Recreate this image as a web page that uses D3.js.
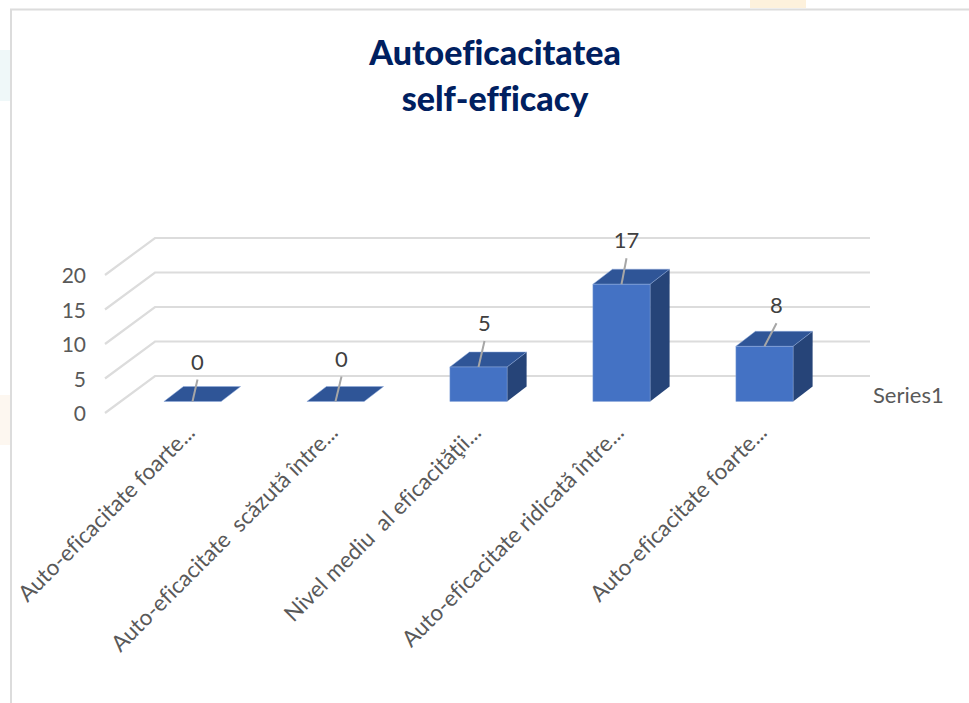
<!DOCTYPE html>
<html>
<head>
<meta charset="utf-8">
<script src="https://cdn.jsdelivr.net/npm/d3@7"></script>
<style>
  html, body { margin: 0; padding: 0; background: #fff; }
  svg { display: block; }
  text { font-family: Lato, "Open Sans", sans-serif; font-variant-ligatures: none; white-space: pre; }
</style>
</head>
<body>
<div id="chart"></div>
<script>
const titleLines = ['Autoeficacitatea', 'self-efficacy'];
const categories = [
    'Auto-eficacitate foarte...',
    'Auto-eficacitate  scăzută între...',
    'Nivel mediu  al eficacităţii...',
    'Auto-eficacitate ridicată între...',
    'Auto-eficacitate foarte...'
];
const values = [0, 0, 5, 17, 8];
const yTicks = [0, 5, 10, 15, 20];
const seriesName = 'Series1';

const width = 969, height = 703;
// fake 3d: how far the floor runs back, and how far back a bar starts and ends
const depthX = 50, depthY = -37;
const barDepthX = 19.5, barDepthY = -15;
const floorFront = 11.5 / 37;

const svg = d3.select('#chart')
    .append('svg')
    .attr('width', width)
    .attr('height', height);

// faint bits of the slide behind the chart
svg.append('rect').attr('x', 0).attr('y', 50).attr('width', 10).attr('height', 51).attr('fill', '#eff8f9');
svg.append('rect').attr('x', 0).attr('y', 395).attr('width', 10).attr('height', 50).attr('fill', '#fdf7f0');
svg.append('rect').attr('x', 750).attr('y', 0).attr('width', 56).attr('height', 8).attr('fill', '#fdf1dc');

// chart frame, left and top only
svg.append('path')
    .attr('d', 'M11,703V9.5H969')
    .attr('fill', 'none')
    .attr('stroke', '#dcdcdc')
    .attr('stroke-width', 2);

svg.append('text')
    .selectAll('tspan')
    .data(titleLines)
    .enter()
    .append('tspan')
    .attr('x', 495)
    .attr('y', (d, i) => 65 + i * 46)
    .attr('text-anchor', 'middle')
    .attr('font-size', 34)
    .attr('font-weight', 900)
    .attr('fill', '#002060')
    .text(d => d);

// y is measured on the front edge of the floor
const yScale = d3.scaleLinear().domain([0, 20]).range([413, 275]);
const xScale = d3.scaleBand()
    .domain(d3.range(categories.length))
    .range([121, 836])
    .paddingInner(0.6)
    .paddingOuter(0.3);

const floorLeft = 105, floorRight = 820;

svg.append('g')
    .selectAll('path')
    .data(yTicks)
    .enter()
    .append('path')
    .attr('d', d => {
        const y = yScale(d);
        return `M${floorLeft},${y}L${floorLeft + depthX},${y + depthY}H${floorRight + depthX}`;
    })
    .attr('fill', 'none')
    .attr('stroke', '#dcdcdc')
    .attr('stroke-width', 2.2);

const yAxis = d3.axisLeft(yScale).tickValues(yTicks).tickSize(0).tickPadding(0);
svg.append('g')
    .attr('transform', 'translate(86,1)')
    .call(yAxis)
    .call(g => g.select('.domain').remove())
    .selectAll('text')
    .attr('font-size', 21)
    .attr('fill', '#595959');

// bars stand a bit behind the front edge of the floor
const baseY = yScale(0) + floorFront * depthY;
const barY = d => baseY - (yScale(0) - yScale(d));

const bars = svg.append('g')
    .selectAll('g')
    .data(values)
    .enter()
    .append('g');

const edge = '#8faadc';

bars.append('path')   // side
    .attr('d', (d, i) => {
        const x = xScale(i) + xScale.bandwidth();
        return `M${x},${baseY}V${barY(d)}l${barDepthX},${barDepthY}V${baseY + barDepthY}Z`;
    })
    .attr('fill', '#264478');

bars.append('path')   // top
    .attr('d', (d, i) => {
        const w = xScale.bandwidth();
        return `M${xScale(i)},${barY(d)}h${w}l${barDepthX},${barDepthY}h${-w}Z`;
    })
    .attr('fill', '#2f5597')
    .attr('stroke', edge)
    .attr('stroke-width', 0.5);

bars.append('rect')   // front
    .attr('x', (d, i) => xScale(i))
    .attr('y', d => barY(d))
    .attr('width', xScale.bandwidth())
    .attr('height', d => baseY - barY(d))
    .attr('fill', '#4472c4')
    .attr('stroke', edge)
    .attr('stroke-width', 0.5);

// leader lines go from the bar to the label
const leaderDx = [5, 6, 6, 5, 12];
const leaderRise = [22, 25, 26, 26, 23];

bars.append('line')
    .attr('x1', (d, i) => xScale(i) + xScale.bandwidth() / 2)
    .attr('y1', d => barY(d))
    .attr('x2', (d, i) => xScale(i) + xScale.bandwidth() / 2 + leaderDx[i])
    .attr('y2', (d, i) => barY(d) - leaderRise[i])
    .attr('stroke', '#a6a6a6')
    .attr('stroke-width', 2);

bars.append('text')
    .attr('x', (d, i) => xScale(i) + xScale.bandwidth() / 2 + leaderDx[i])
    .attr('y', (d, i) => barY(d) - leaderRise[i] - 10)
    .attr('text-anchor', 'middle')
    .attr('font-size', 22)
    .attr('fill', '#404040')
    .text(d => d);

const xAxis = d3.axisBottom(xScale).tickFormat(i => categories[i]).tickSize(0);
svg.append('g')
    .attr('transform', 'translate(-2.5,432)')
    .call(xAxis)
    .call(g => g.select('.domain').remove())
    .selectAll('text')
    .attr('font-size', 22.4)
    .attr('fill', '#595959')
    .attr('text-anchor', 'end')
    .attr('dx', 3)
    .attr('dy', 6)
    .attr('y', 0)
    .attr('transform', 'rotate(-45)');

svg.append('text')
    .attr('x', 873)
    .attr('y', 403)
    .attr('font-size', 22)
    .attr('fill', '#595959')
    .text(seriesName);
</script>
</body>
</html>
